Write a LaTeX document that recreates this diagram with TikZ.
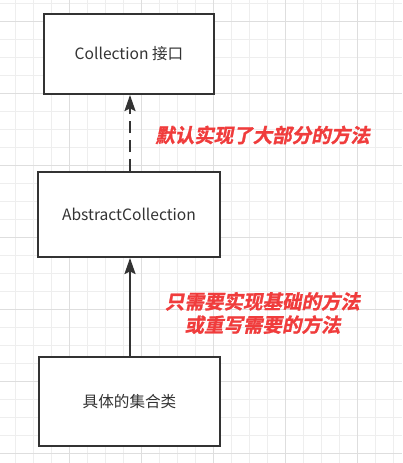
\documentclass[tikz,border=0pt]{standalone}
\usepackage{fontspec}
\setmainfont{Noto Sans CJK SC}
\newfontfamily\cjk{Noto Sans CJK SC}
\newfontfamily\cjkred[FakeSlant=0.2,FakeBold=1.2]{Noto Sans CJK SC Bold}
\usetikzlibrary{arrows.meta}
\definecolor{boxline}{RGB}{51,51,51}
\definecolor{txt}{RGB}{51,51,51}
\definecolor{redtxt}{RGB}{240,60,60}
\definecolor{gridminor}{RGB}{238,238,238}
\definecolor{gridmajor}{RGB}{222,222,222}
\tikzset{
  box/.style={draw=boxline, line width=2pt, fill=white, minimum width=#1, inner sep=0pt, font=\cjk\fontsize{15.6}{18}\selectfont, text=txt},
  conn/.style={draw=boxline, line width=2pt, -{Stealth[length=16pt,width=11pt,inset=2.5pt]}},
  note/.style={font=\cjkred\fontsize{19.5}{23.3}\selectfont, text=redtxt, align=center}
}
\begin{document}
\begin{tikzpicture}[x=1pt,y=-1pt]
\useasboundingbox (0,0) rectangle (402,463);
\fill[white] (0,0) rectangle (402,463);
\foreach \i in {0,...,22} {
  \draw[gridminor, line width=1pt] ({-2.3+18*\i},0) -- ({-2.3+18*\i},463);
}
\foreach \j in {0,...,25} {
  \draw[gridminor, line width=1pt] (0,{3.7+18*\j}) -- (402,{3.7+18*\j});
}
\foreach \i in {1,...,5} {
  \draw[gridmajor, line width=1pt] ({-2.3+72*\i},0) -- ({-2.3+72*\i},463);
}
\foreach \j in {0,...,6} {
  \draw[gridmajor, line width=1pt] (0,{21.7+72*\j}) -- (402,{21.7+72*\j});
}
\node[box=170pt, minimum height=80pt] (a) at (129,54) {Collection 接口};
\node[box=182pt, minimum height=85pt] (b) at (129,214.5) {AbstractCollection};
\node[box=181pt, minimum height=89pt] (c) at (129.5,401.5) {具体的集合类};
\draw[conn, dash pattern=on 12pt off 7pt] (b.north -| 130,0) -- (a.south -| 130,0);
\draw[conn] (c.north -| 130,0) -- (b.south -| 130,0);
\node[note] (n1) at (262.5,135) {默认实现了大部分的方法};
\node[note] (n2) at (262.5,313) {只需要实现基础的方法\\或重写需要的方法};
\end{tikzpicture}
\end{document}
